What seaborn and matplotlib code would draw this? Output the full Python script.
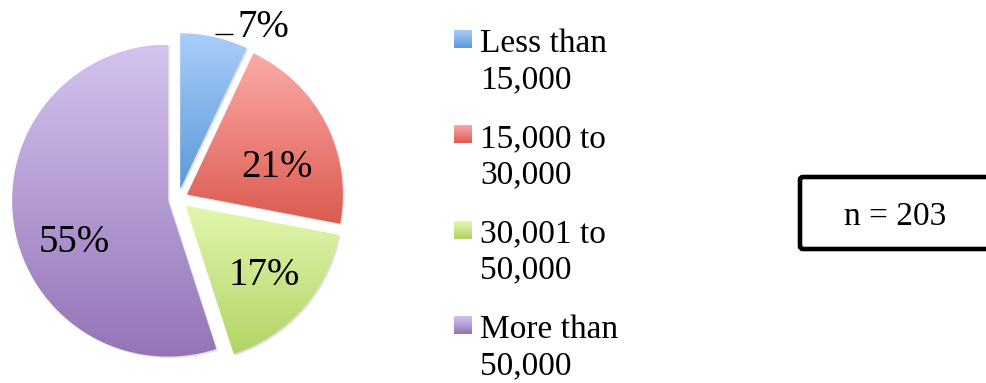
import numpy as np
import matplotlib
matplotlib.use("Agg")
import matplotlib.pyplot as plt
from matplotlib.patches import FancyBboxPatch, Rectangle, Wedge
import seaborn as sns

# Income bands and their share of respondents (%)
categories = ["Less than\n15,000", "15,000 to\n30,000", "30,001 to\n50,000", "More than\n50,000"]
shares = [7, 21, 17, 55]
pct_labels = [f"{v}%" for v in shares]
sample_note = "n = 203"

# Each slice is shaded with a vertical gradient, light at the top
top_colors = ["#aacdfa", "#fbaba6", "#e2f7ae", "#d4c3ee"]
bottom_colors = ["#5a9ad6", "#dc5a50", "#b2d466", "#9474b8"]

W, H = 987, 383
sns.set_theme(style="white")
plt.rcParams["font.family"] = ["Liberation Serif", "DejaVu Serif"]

fig = plt.figure(figsize=(W / 100, H / 100), dpi=100)
ax = fig.add_axes([0, 0, 1, 1])


def py(y):
    """Convert a top-down pixel row into the axes' bottom-up coordinate."""
    return H - y


def gradient_fill(patch, c_top, c_bottom, zorder):
    ext = patch.get_path().get_extents(patch.get_patch_transform())
    cmap = sns.blend_palette([c_top, c_bottom], as_cmap=True)
    grad = np.linspace(0, 1, 256).reshape(-1, 1)
    im = ax.imshow(grad, cmap=cmap, extent=(ext.x0, ext.x1, ext.y0, ext.y1),
                   origin="upper", aspect="auto", interpolation="bilinear",
                   zorder=zorder)
    im.set_clip_path(patch)
    patch.set_facecolor("none")


# Pie, starting at twelve o'clock and running clockwise, every slice pulled out
cx, cy, R = 178, py(199), 156
wedges, _ = ax.pie(shares, radius=R, center=(cx, cy), startangle=90,
                   counterclock=False, explode=[10] * len(shares),
                   wedgeprops=dict(linewidth=0), frame=True)

for w, c0, c1 in zip(wedges, top_colors, bottom_colors):
    # soft drop shadow behind each slice
    sh = Wedge((w.center[0] + 1.5, w.center[1] - 1.5), w.r, w.theta1, w.theta2,
               facecolor="#000000", alpha=0.12, linewidth=0, zorder=0.5)
    ax.add_patch(sh)
    gradient_fill(w, c0, c1, zorder=1)

# Percentage labels inside the larger slices (offsets in radius units, baseline)
inner_offsets = {1: (0.635, 0.141), 2: (0.551, -0.551), 3: (-0.667, -0.340)}
for i, (dx, dy) in inner_offsets.items():
    ax.text(cx + dx * R, cy + dy * R, pct_labels[i], fontsize=28,
            ha="center", va="baseline", color="black", zorder=3)

# Small slice: label outside with a short horizontal leader above the arc
w0 = wedges[0]
tm = np.deg2rad(0.5 * (w0.theta1 + w0.theta2))
ax0 = w0.center[0] + w0.r * np.cos(tm)
ay0 = w0.center[1] + w0.r * np.sin(tm)
ax.plot([ax0 + 1, ax0 + 19], [ay0 + 3, ay0 + 3], color="black", lw=1.0,
        solid_capstyle="butt", zorder=3)
ax.text(ax0 + 23, ay0, pct_labels[0], fontsize=28, ha="left", va="baseline",
        color="black", zorder=3)

# Legend: gradient squares with two-line labels
leg_x, sq = 454, 18
for i, (label, c0, c1) in enumerate(zip(categories, top_colors, bottom_colors)):
    base = 52 + 95.3 * i
    rect = Rectangle((leg_x, py(base - 22 + sq)), sq, sq, linewidth=0, zorder=2)
    ax.add_patch(rect)
    gradient_fill(rect, c0, c1, zorder=2)
    for j, line in enumerate(label.split("\n")):
        ax.text(leg_x + 26, py(base + 36 * j), line, fontsize=24,
                ha="left", va="baseline", color="black", zorder=3)

# Sample-size box, running off the right edge
box = FancyBboxPatch((800, py(249)), 260, 72,
                     boxstyle="round,pad=0,rounding_size=3",
                     facecolor="white", edgecolor="black", linewidth=3.3,
                     zorder=2)
ax.add_patch(box)
ax.text(895, py(225), sample_note, fontsize=24, ha="center", va="baseline",
        color="black", zorder=3)

ax.set_xlim(0, W)
ax.set_ylim(0, H)
ax.set_aspect("auto")
ax.axis("off")

fig.savefig("out.png", dpi=100, facecolor="white")
